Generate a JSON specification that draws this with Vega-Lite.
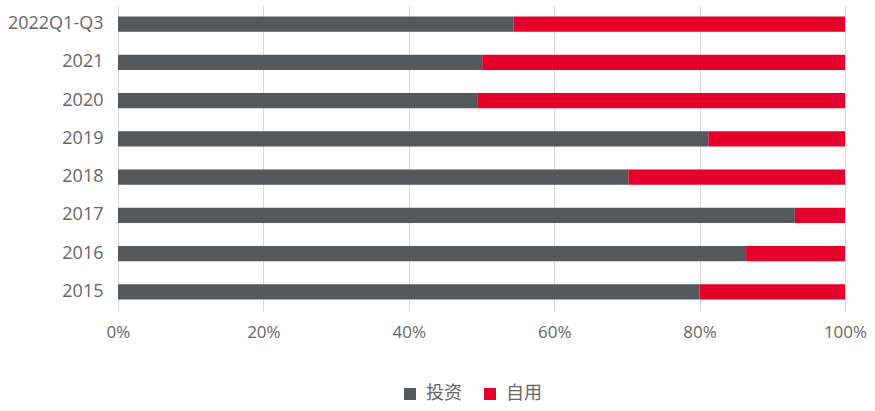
{
  "$schema": "https://vega.github.io/schema/vega-lite/v6.json",
  "width": 727,
  "height": 306,
  "autosize": "none",
  "padding": {"left": 118, "top": 5, "right": 30, "bottom": 100},
  "data": {
    "values": [
      {"period": "2022Q1-Q3", "type": "投资", "share": 54.4},
      {"period": "2022Q1-Q3", "type": "自用", "share": 45.6},
      {"period": "2021", "type": "投资", "share": 50.1},
      {"period": "2021", "type": "自用", "share": 49.9},
      {"period": "2020", "type": "投资", "share": 49.5},
      {"period": "2020", "type": "自用", "share": 50.5},
      {"period": "2019", "type": "投资", "share": 81.2},
      {"period": "2019", "type": "自用", "share": 18.8},
      {"period": "2018", "type": "投资", "share": 70.2},
      {"period": "2018", "type": "自用", "share": 29.8},
      {"period": "2017", "type": "投资", "share": 93.1},
      {"period": "2017", "type": "自用", "share": 6.9},
      {"period": "2016", "type": "投资", "share": 86.4},
      {"period": "2016", "type": "自用", "share": 13.6},
      {"period": "2015", "type": "投资", "share": 80.0},
      {"period": "2015", "type": "自用", "share": 20.0}
    ]
  },
  "mark": {"type": "bar"},
  "encoding": {
    "y": {
      "field": "period", "type": "nominal", "sort": null, "title": null,
      "scale": {"paddingInner": 0.6, "paddingOuter": 0.3},
      "axis": {"domain": false, "ticks": false, "labelPadding": 15, "labelFontSize": 18, "labelColor": "#666666"}
    },
    "x": {
      "field": "share", "type": "quantitative", "stack": "normalize", "title": null,
      "axis": {"format": ".0%", "values": [0, 0.2, 0.4, 0.6, 0.8, 1], "domain": false, "ticks": false, "labelFlush": false,
               "grid": true, "gridColor": "#d9d9d9", "labelPadding": 13, "labelFontSize": 17, "labelColor": "#666666"}
    },
    "color": {
      "field": "type", "type": "nominal", "sort": ["投资", "自用"], "title": null,
      "scale": {"domain": ["投资", "自用"], "range": ["#54585a", "#e4002b"]},
      "legend": {"orient": "none", "direction": "horizontal", "legendX": 283, "legendY": 380,
                 "symbolType": "square", "symbolSize": 144, "symbolStrokeWidth": 0, "labelOffset": 7,
                 "labelFontSize": 18, "labelColor": "#666666", "columnPadding": 19}
    },
    "order": {"field": "type", "sort": "ascending"}
  },
  "config": {
    "view": {"stroke": null},
    "font": "Open Sans",
    "axis": {"labelFont": "Open Sans"},
    "legend": {"labelFont": "Noto Sans CJK SC"}
  }
}
